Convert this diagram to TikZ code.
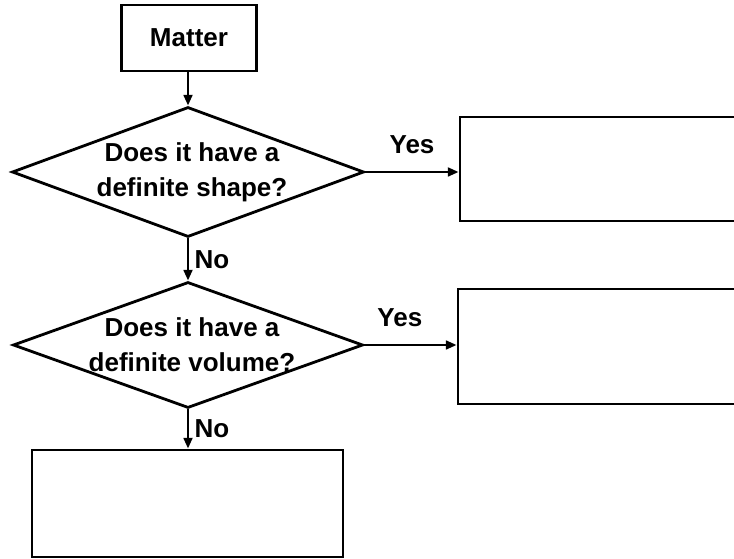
\documentclass[tikz,border=0pt]{standalone}
\usepackage{fontspec}
\setmainfont{Liberation Sans}
\usepackage{tikz}
\usetikzlibrary{positioning,arrows.meta,shapes.geometric}
\tikzset{
  box/.style={rectangle,draw,line width=2.1pt,inner sep=0pt},
  query/.style={diamond,draw,line width=2.1pt,inner sep=0pt},
  qtext/.style={align=center,xshift=3pt,font=\bfseries\fontsize{19.5}{26}\selectfont},
  edge/.style={-{Triangle[length=8pt,width=6.5pt]},line width=1.9pt},
  tag/.style={font=\bfseries\fontsize{19.5}{22}\selectfont,inner sep=1pt},
}
\begin{document}
\begin{tikzpicture}[x=0.75pt,y=-0.75pt]
\useasboundingbox (0,0) rectangle (734,559);
\clip (0,0) rectangle (734,559);
% start
\node[box,minimum width=101.25pt,minimum height=49.5pt,
      font=\bfseries\fontsize{19.5}{22}\selectfont] (matter) at (189,38) {Matter};
% questions
\node[query,minimum width=264pt,minimum height=97.5pt,
      label={[qtext]center:{Does it have a\\definite shape?}}] (qshape) at (188,172) {};
\node[query,minimum width=262.5pt,minimum height=94.5pt,
      label={[qtext]center:{Does it have a\\definite volume?}}] (qvol) at (188,345) {};
% answer boxes (left empty)
\node[box,minimum width=255pt,minimum height=78pt] (solid) at (630,169) {};
\node[box,minimum width=256.5pt,minimum height=86.25pt] (liquid) at (629,346.5) {};
\node[box,minimum width=233.25pt,minimum height=80.25pt] (gas) at (187.5,503.5) {};
% connectors
\draw[edge] (matter.south -| qshape.north) -- (qshape.north);
\draw[edge] (qshape.south) -- node[tag,right=3pt] (no1) {No} (qvol.north);
\draw[edge] (qvol.south) -- node[tag,right=3pt] (no2) {No} (qvol.south |- gas.north);
\draw[edge] (qshape.east) -- node[tag,above=12pt] (yes1) {Yes} (qshape.east -| solid.west);
\draw[edge] (qvol.east) -- node[tag,above=12pt,xshift=-8pt] (yes2) {Yes} (qvol.east -| liquid.west);
\end{tikzpicture}
\end{document}
